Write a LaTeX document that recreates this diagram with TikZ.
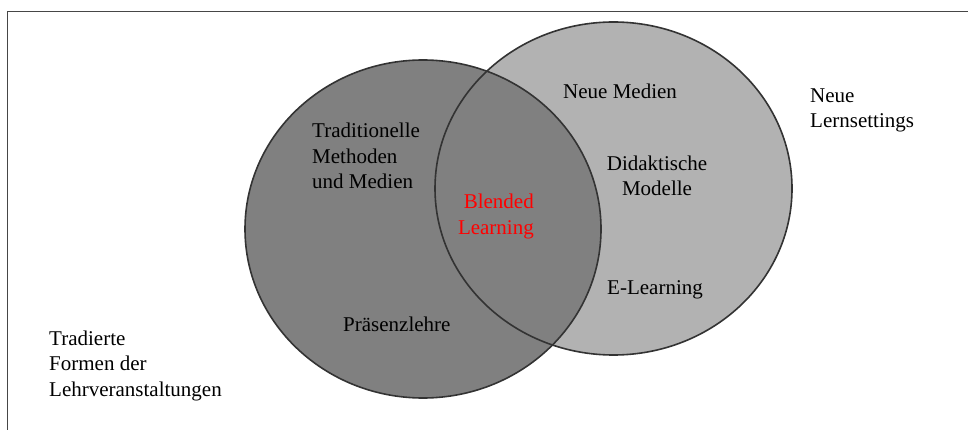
\documentclass[tikz,border=0pt]{standalone}
\usepackage{fontspec}
\setmainfont{Liberation Serif}
\definecolor{darkfill}{RGB}{128,128,128}
\definecolor{lightfill}{RGB}{178,178,178}
\definecolor{rim}{RGB}{51,51,51}
\definecolor{framegray}{RGB}{70,70,70}
\tikzset{
  label text/.style={font=\fontsize{21}{25.5}\selectfont, inner sep=0pt, text=black},
  set outline/.style={draw=rim, line width=1.6pt},
}
\begin{document}
\begin{tikzpicture}[x=1pt,y=-1pt]
  \useasboundingbox (0,0) rectangle (968,430);
  % open frame: top and left edges only
  \draw[framegray, line width=1.6pt] (7.5,430) -- (7.5,11.5) -- (968,11.5);

  % the two sets: light one first, dark one on top, then both rims
  \fill[lightfill] (613.5,188.5) ellipse [x radius=178.5, y radius=166.5];
  \fill[darkfill] (423,229) ellipse [x radius=178, y radius=169];
  \draw[set outline] (613.5,188.5) ellipse [x radius=178.5, y radius=166.5];
  \draw[set outline] (423,229) ellipse [x radius=178, y radius=169];

  % labels (multi-line nodes are anchored at the baseline of their last line)
  \node[label text, anchor=base west] (neuemedien) at (563,99) {Neue Medien};
  \node[label text, anchor=base west, align=left] (lernsettings) at (810,128) {Neue\\Lernsettings};
  \node[label text, anchor=base west, align=left] (traditionell) at (312,189) {Traditionelle\\Methoden\\und Medien};
  \node[label text, anchor=base, align=center] (didaktik) at (657,196) {Didaktische\\Modelle};
  \node[label text, anchor=base east, align=right, text=red] (blended) at (534,234) {Blended\\Learning};
  \node[label text, anchor=base west] (elearning) at (607,294) {E-Learning};
  \node[label text, anchor=base west] (praesenz) at (343,331) {Präsenzlehre};
  \node[label text, anchor=base west, align=left] (tradiert) at (49,396) {Tradierte\\Formen der\\Lehrveranstaltungen};
\end{tikzpicture}
\end{document}
